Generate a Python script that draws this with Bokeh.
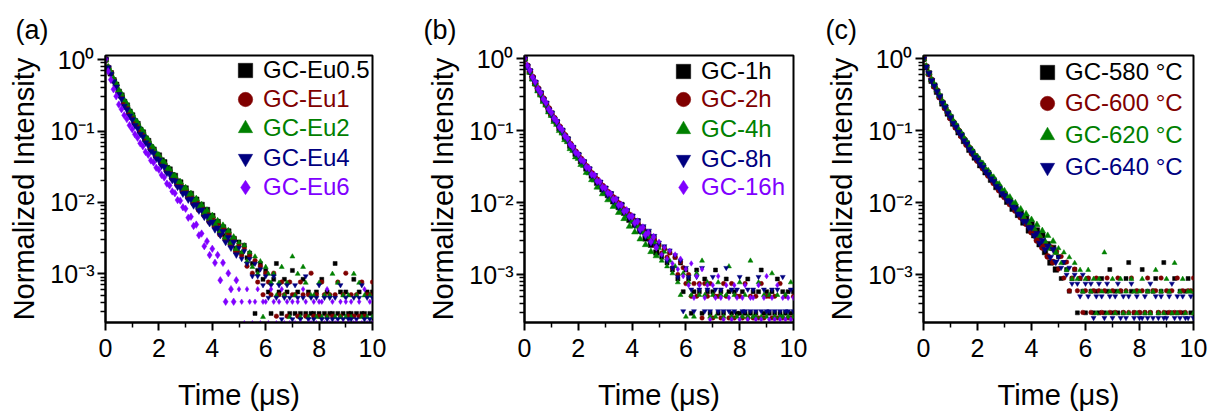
from bokeh.plotting import figure
from bokeh.layouts import row
from bokeh.models import FixedTicker, Legend, LegendItem, Range1d, ColumnDataSource
from bokeh.embed import file_html
from bokeh.resources import INLINE

FONT = "Liberation Sans"

# ---------------- data (photon counts per time channel) ----------------
time_us = [0.0, 0.1, 0.2, 0.3, 0.4, 0.5, 0.6, 0.7, 0.8, 0.9,
           1.0, 1.1, 1.2, 1.3, 1.4, 1.5, 1.6, 1.7, 1.8, 1.9,
           2.0, 2.1, 2.2, 2.3, 2.4, 2.5, 2.6, 2.7, 2.8, 2.9,
           3.0, 3.1, 3.2, 3.3, 3.4, 3.5, 3.6, 3.7, 3.8, 3.9,
           4.0, 4.1, 4.2, 4.3, 4.4, 4.5, 4.6, 4.7, 4.8, 4.9,
           5.0, 5.1, 5.2, 5.3, 5.4, 5.5, 5.6, 5.7, 5.8, 5.9,
           6.0, 6.1, 6.2, 6.3, 6.4, 6.5, 6.6, 6.7, 6.8, 6.9,
           7.0, 7.1, 7.2, 7.3, 7.4, 7.5, 7.6, 7.7, 7.8, 7.9,
           8.0, 8.1, 8.2, 8.3, 8.4, 8.5, 8.6, 8.7, 8.8, 8.9,
           9.0, 9.1, 9.2, 9.3, 9.4, 9.5, 9.6, 9.7, 9.8, 9.9,
           10.0]

# panel (a): Eu concentration
a_names = ["GC-Eu0.5", "GC-Eu1", "GC-Eu2", "GC-Eu4", "GC-Eu6"]
a_eu05 = [3570, 2650, 2290, 1830, 1580, 1260, 1120, 910, 810, 665,
          590, 490, 447, 372, 340, 281, 258, 212, 196, 165,
          162, 138, 130, 108, 103, 86, 84, 70, 68, 56,
          56, 46, 47, 38, 39, 31, 33, 26, 28, 21,
          23, 18, 19, 14, 16, 12, 14, 10, 11, 8,
          10, 7, 9, 6, 7, 5, 1, 4, 5, 3,
          4, 2, 1, 3, 5, 2, 1, 3, 2, 1,
          4, 1, 2, 1, 3, 1, 2, 1, 1, 2,
          1, 3, 1, 2, 1, 1, 5, 1, 2, 1,
          2, 1, 1, 3, 1, 2, 1, 1, 2, 1,
          2]
a_eu1 = [3900, 3020, 2530, 2010, 1710, 1350, 1190, 955, 850, 690,
         620, 510, 470, 385, 356, 292, 272, 221, 209, 172,
         166, 137, 133, 108, 105, 85, 84, 69, 69, 56,
         57, 46, 47, 38, 40, 31, 33, 26, 28, 21,
         24, 18, 20, 14, 17, 12, 14, 10, 12, 8,
         10, 7, 9, 5, 7, 4, 6, 3, 5, 2,
         4, 3, 2, 4, 1, 2, 3, 2, 1, 3,
         2, 2, 1, 3, 2, 1, 2, 4, 1, 2,
         1, 3, 2, 1, 2, 1, 2, 3, 1, 2,
         4, 1, 2, 1, 2, 1, 3, 1, 2, 2,
         3]
a_eu2 = [4000, 3150, 2680, 2170, 1850, 1490, 1310, 1080, 950, 780,
         690, 580, 525, 440, 398, 332, 301, 252, 229, 196,
         183, 155, 146, 121, 117, 96, 94, 78, 77, 63,
         64, 52, 53, 43, 45, 35, 37, 29, 31, 24,
         26, 20, 22, 16, 19, 13, 16, 11, 13, 9,
         11, 8, 10, 6, 8, 5, 7, 4, 6, 1,
         5, 4, 3, 4, 2, 3, 5, 2, 3, 1,
         7, 2, 4, 1, 5, 3, 1, 2, 2, 1,
         3, 1, 2, 1, 2, 4, 1, 3, 1, 2,
         1, 2, 1, 4, 2, 3, 1, 2, 1, 2,
         1]
a_eu4 = [4300, 3310, 2690, 2120, 1780, 1400, 1210, 960, 860, 700,
         620, 515, 470, 390, 358, 296, 272, 224, 211, 176,
         168, 140, 135, 111, 107, 88, 86, 71, 70, 57,
         58, 47, 48, 39, 40, 33, 34, 27, 28, 22,
         23, 18, 19, 15, 17, 12, 14, 10, 12, 8,
         10, 7, 9, 6, 7, 4, 6, 4, 5, 3,
         4, 2, 3, 4, 2, 3, 1, 2, 3, 2,
         1, 3, 2, 1, 2, 4, 1, 2, 1, 2,
         3, 1, 2, 1, 2, 1, 2, 1, 3, 1,
         2, 1, 1, 2, 1, 2, 3, 1, 2, 1,
         2]
a_eu6 = [4900, 3350, 2560, 1880, 1500, 1150, 990, 815, 720, 590,
         520, 440, 395, 330, 300, 250, 228, 190, 178, 150,
         141, 119, 110, 90, 85, 70, 66, 53, 52, 42,
         40, 30, 31, 23, 24, 17, 18, 12, 14, 9,
         11, 7, 9, 4, 7, 2, 5, 3, 2, 4,
         3, 2, 1, 3, 2, 1, 2, 3, 1, 2,
         2, 1, 3, 2, 1, 2, 3, 1, 2, 1,
         2, 1, 2, 1, 3, 2, 1, 1, 2, 1,
         2, 2, 1, 3, 1, 2, 1, 1, 2, 1,
         2, 1, 2, 1, 1, 2, 1, 3, 1, 2,
         1]

# panel (b): holding time
b_names = ["GC-1h", "GC-2h", "GC-4h", "GC-8h", "GC-16h"]
b_1h = [3450, 2690, 2310, 1850, 1600, 1280, 1140, 925, 820, 670,
        600, 495, 455, 372, 345, 283, 262, 214, 199, 165,
        158, 130, 126, 103, 100, 82, 80, 65, 65, 53,
        54, 44, 45, 36, 38, 30, 32, 25, 26, 20,
        22, 17, 19, 14, 15, 11, 13, 9, 11, 7,
        9, 6, 8, 5, 7, 4, 6, 3, 5, 2,
        4, 3, 1, 2, 4, 2, 1, 3, 2, 1,
        2, 4, 1, 2, 1, 3, 2, 1, 2, 1,
        1, 2, 1, 3, 1, 2, 1, 2, 4, 1,
        2, 1, 2, 1, 3, 1, 2, 1, 2, 1,
        2]
b_2h = [4000, 3210, 2620, 2230, 1800, 1550, 1270, 1120, 920, 815,
        665, 600, 505, 455, 384, 346, 290, 262, 220, 204,
        175, 162, 139, 128, 110, 102, 89, 83, 72, 68,
        59, 56, 49, 47, 41, 39, 34, 32, 28, 27,
        24, 21, 20, 18, 17, 15, 14, 12, 12, 10,
        10, 8, 9, 7, 8, 5, 7, 4, 6, 5,
        3, 4, 2, 3, 2, 3, 1, 3, 2, 3,
        1, 2, 2, 1, 3, 2, 1, 3, 1, 2,
        2, 1, 3, 1, 2, 1, 2, 1, 3, 1,
        2, 2, 1, 2, 1, 3, 1, 2, 1, 1,
        2]
b_4h = [3850, 2950, 2490, 2000, 1710, 1370, 1200, 975, 870, 700,
        625, 515, 470, 385, 355, 288, 270, 216, 203, 166,
        158, 130, 126, 101, 99, 80, 79, 63, 64, 51,
        52, 42, 43, 34, 36, 28, 30, 23, 25, 18,
        21, 15, 18, 12, 15, 10, 13, 8, 11, 7,
        9, 6, 8, 5, 6, 4, 5, 3, 2, 4,
        1, 3, 2, 1, 4, 2, 6, 2, 3, 1,
        2, 1, 3, 2, 1, 2, 5, 1, 2, 1,
        3, 1, 2, 1, 6, 1, 1, 3, 1, 2,
        1, 2, 4, 1, 2, 1, 1, 2, 1, 3,
        1]
b_8h = [3220, 2530, 2160, 1740, 1500, 1200, 1060, 870, 770, 625,
        560, 465, 425, 352, 322, 266, 246, 202, 187, 155,
        149, 123, 119, 97, 95, 77, 77, 62, 62, 50,
        51, 41, 43, 34, 36, 28, 30, 24, 25, 20,
        21, 16, 18, 13, 15, 11, 13, 9, 11, 8,
        9, 6, 8, 5, 7, 4, 6, 3, 5, 1,
        4, 3, 2, 1, 3, 2, 4, 1, 2, 1,
        3, 2, 1, 2, 1, 4, 1, 2, 1, 2,
        3, 1, 1, 2, 1, 2, 1, 3, 1, 2,
        1, 1, 2, 1, 2, 1, 3, 1, 1, 2,
        1]
b_16h = [4200, 3380, 2900, 2330, 2010, 1610, 1420, 1160, 1030, 840,
         750, 625, 570, 472, 432, 358, 327, 272, 249, 210,
         198, 166, 158, 132, 126, 104, 101, 84, 82, 69,
         67, 57, 56, 47, 47, 39, 39, 32, 33, 27,
         27, 22, 23, 18, 19, 15, 16, 12, 14, 10,
         12, 8, 10, 7, 9, 6, 8, 5, 7, 4,
         5, 3, 6, 2, 4, 3, 5, 2, 3, 1,
         3, 2, 4, 2, 1, 3, 2, 1, 3, 2,
         1, 2, 3, 1, 2, 2, 1, 3, 1, 2,
         4, 1, 2, 1, 3, 1, 2, 1, 2, 1,
         2]

# panel (c): crystallization temperature
c_names = ["GC-580 \u00b0C", "GC-600 \u00b0C", "GC-620 \u00b0C", "GC-640 \u00b0C"]
c_580 = [3400, 2600, 2130, 1680, 1440, 1180, 1020, 815, 725, 590,
         525, 428, 390, 323, 296, 245, 226, 185, 172, 144,
         137, 113, 109, 90, 87, 71, 69, 56, 55, 44,
         44, 35, 36, 28, 29, 23, 24, 18, 21, 14,
         17, 12, 14, 9, 12, 7, 9, 5, 8, 4,
         6, 3, 5, 4, 2, 3, 4, 1, 3, 2,
         1, 3, 2, 1, 2, 1, 3, 1, 2, 4,
         1, 2, 1, 2, 1, 3, 5, 2, 1, 2,
         1, 4, 1, 2, 1, 2, 3, 1, 2, 5,
         1, 2, 1, 3, 1, 2, 1, 2, 3, 1,
         2]
c_600 = [3350, 2620, 2050, 1700, 1380, 1210, 975, 835, 690, 605,
         500, 440, 370, 334, 282, 254, 213, 193, 161, 150,
         128, 119, 101, 94, 80, 75, 63, 60, 50, 47,
         40, 38, 32, 31, 26, 25, 21, 20, 17, 16,
         13, 13, 10, 11, 8, 9, 6, 8, 5, 7,
         4, 6, 3, 5, 2, 3, 4, 2, 3, 1,
         2, 3, 1, 2, 3, 2, 1, 2, 3, 1,
         2, 1, 3, 2, 1, 2, 1, 3, 1, 2,
         1, 2, 1, 3, 1, 2, 2, 1, 3, 1,
         2, 1, 2, 1, 3, 1, 2, 1, 2, 2,
         3]
c_620 = [3450, 2720, 2180, 1770, 1500, 1260, 1070, 880, 765, 640,
         560, 470, 420, 356, 320, 272, 245, 205, 187, 158,
         150, 127, 120, 100, 95, 81, 77, 64, 62, 52,
         50, 42, 41, 34, 34, 27, 28, 22, 24, 18,
         20, 15, 17, 12, 14, 10, 12, 8, 10, 7,
         8, 5, 7, 4, 6, 3, 5, 3, 4, 2,
         3, 4, 2, 3, 1, 3, 2, 7, 1, 2,
         3, 1, 2, 3, 1, 2, 1, 3, 2, 1,
         2, 3, 1, 2, 1, 2, 4, 1, 2, 1,
         3, 2, 1, 5, 1, 2, 3, 1, 2, 2,
         1]
c_640 = [4000, 3080, 2500, 1990, 1680, 1410, 1190, 975, 845, 705,
         610, 510, 452, 385, 345, 292, 262, 222, 198, 172,
         158, 137, 125, 108, 99, 86, 79, 68, 63, 54,
         50, 43, 41, 35, 33, 28, 27, 22, 22, 18,
         18, 14, 15, 11, 12, 9, 10, 7, 9, 6,
         7, 5, 6, 4, 5, 3, 4, 3, 2, 4,
         3, 2, 3, 1, 2, 3, 2, 1, 3, 2,
         1, 2, 3, 1, 2, 1, 2, 3, 1, 2,
         1, 1, 2, 1, 3, 1, 2, 1, 2, 1,
         1, 2, 3, 1, 2, 1, 2, 1, 1, 2,
         1]

panel_labels = ["(a)", "(b)", "(c)"]
x_ticks = [0, 2, 4, 6, 8, 10]
x_minor_ticks = [1, 3, 5, 7, 9]
y_ticks = [1, 0.1, 0.01, 0.001]
y_tick_labels = ["10\u2070", "10\u207b\u00b9", "10\u207b\u00b2", "10\u207b\u00b3"]
x_label = "Time (\u03bcs)"
y_label = "Normalized Intensity"

# ---------------- styles ----------------
colors = ["#000000", "#800000", "#008000", "#000080", "#8000FF"]
markers = ["square", "circle", "triangle", "inverted_triangle", "diamond"]
size_decay = [5.5, 6, 6.5, 6.5, 7.5]     # marker size on the steep part
size_tail = [4, 4.5, 5, 5, 5.5]          # marker size on the flat tail
y_minor = [m * 10.0 ** e for e in range(-4, 1) for m in range(2, 10)]


def make_panel(label, names, series, cols, mks, geom):
    W, ml, mr, mt, mb, ylo, yhi, title_off, leg_x, leg_y = geom
    p = figure(width=W, height=419, min_border_left=ml, min_border_right=mr,
               min_border_top=mt, min_border_bottom=mb,
               y_axis_type="log", x_range=Range1d(0, 10), y_range=Range1d(ylo, yhi),
               output_backend="svg", toolbar_location=None, title=label)
    p.title.align = "left"
    p.title.offset = title_off
    p.title.text_font = FONT
    p.title.text_font_size = "27px"
    p.title.text_font_style = "normal"
    p.title.text_color = "black"
    p.title.standoff = 22
    p.xgrid.visible = False
    p.ygrid.visible = False
    p.outline_line_color = "black"
    p.outline_line_width = 2
    p.outline_line_alpha = 1

    p.xaxis.ticker = FixedTicker(ticks=x_ticks, minor_ticks=x_minor_ticks)
    p.yaxis.ticker = FixedTicker(ticks=y_ticks, minor_ticks=y_minor)
    p.yaxis.major_label_overrides = dict(zip(y_ticks, y_tick_labels))
    for ax in (p.xaxis[0], p.yaxis[0]):
        ax.axis_line_width = 2
        ax.major_tick_line_width = 2
        ax.minor_tick_line_width = 1.5
        ax.major_tick_in = 0
        ax.major_tick_out = 8
        ax.minor_tick_in = 0
        ax.minor_tick_out = 5
        ax.major_label_text_font = FONT
        ax.major_label_text_font_size = "25px"
        ax.major_label_text_color = "black"
        ax.axis_label_text_font = FONT
        ax.axis_label_text_font_size = "29px"
        ax.axis_label_text_font_style = "normal"
        ax.axis_label_text_color = "black"
    p.xaxis.major_label_standoff = 8
    p.xaxis.axis_label_standoff = 19
    p.yaxis.major_label_standoff = 3
    p.yaxis.axis_label_standoff = 7
    p.xaxis.axis_label = x_label
    p.yaxis.axis_label = y_label

    for i, (name, counts) in enumerate(zip(names, series)):
        peak = max(counts)
        pts = [(t, c / peak) for t, c in zip(time_us, counts) if c > 0]
        ts = [a for a, _ in pts]
        src = ColumnDataSource(dict(
            t=ts, y=[b for _, b in pts],
            s=[size_decay[i] if t < 5 else size_tail[i] for t in ts]))
        r = p.scatter("t", "y", source=src, marker=mks[i], size="s",
                      fill_color=cols[i], line_color=cols[i], line_width=0.5)
        leg = Legend(items=[LegendItem(label=name, renderers=[r])],
                     location=(leg_x, leg_y[i]), orientation="vertical",
                     label_text_font=FONT, label_text_font_size="24px",
                     label_text_color=cols[i], glyph_width=36, glyph_height=36,
                     label_standoff=0, padding=0, margin=0, spacing=0,
                     border_line_color=None, background_fill_alpha=0)
        p.add_layout(leg)
    return p


pa = make_panel(panel_labels[0], a_names, [a_eu05, a_eu1, a_eu2, a_eu4, a_eu6],
                colors, markers,
                (410, 105, 38, 53, 97, 2.09e-4, 1.14, -90, 122, [234, 205, 176, 146, 117]))
pb = make_panel(panel_labels[1], b_names, [b_1h, b_2h, b_4h, b_8h, b_16h],
                colors, markers,
                (400, 114, 17, 55, 96, 2.16e-4, 1.11, -101, 141, [233, 205, 175, 145, 117]))
pc = make_panel(panel_labels[2], c_names, [c_580, c_600, c_620, c_640],
                colors[:4], markers[:4],
                (400, 113, 17, 55, 96, 2.16e-4, 1.11, -98, 106, [232, 201, 169, 137]))

layout = row(pa, pb, pc)
open("out.html", "w").write(file_html(layout, INLINE))
